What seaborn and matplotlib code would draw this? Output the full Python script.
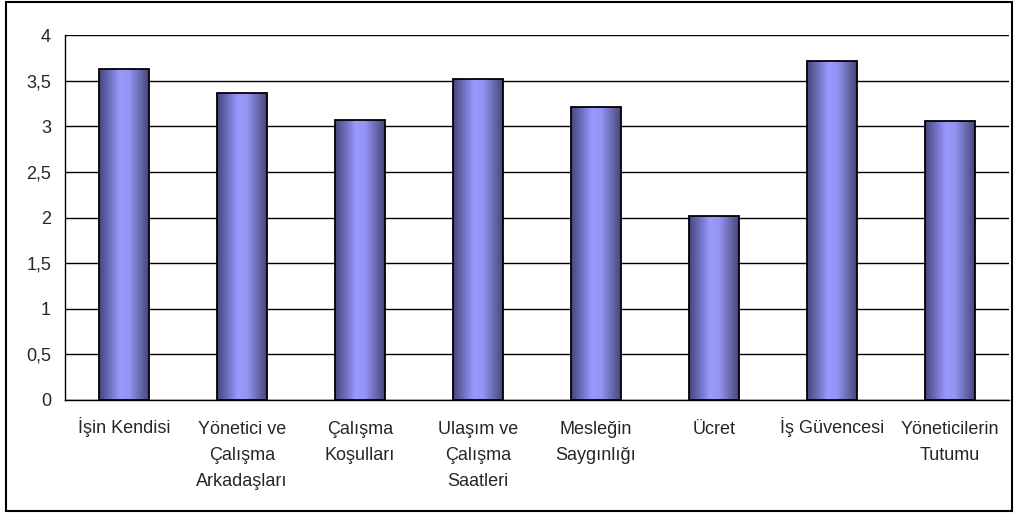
import numpy as np
import pandas as pd
import seaborn as sns
import matplotlib.pyplot as plt
from matplotlib.colors import LinearSegmentedColormap
from matplotlib.patches import Rectangle
from matplotlib.ticker import FuncFormatter, FixedLocator
from matplotlib.transforms import ScaledTranslation

# data
categories = ["İşin Kendisi", "Yönetici ve\nÇalışma\nArkadaşları", "Çalışma\nKoşulları",
              "Ulaşım ve\nÇalışma\nSaatleri", "Mesleğin\nSaygınlığı", "Ücret",
              "İş Güvencesi", "Yöneticilerin\nTutumu"]
values = [3.63, 3.36, 3.07, 3.52, 3.21, 2.02, 3.72, 3.06]
y_ticks = [0, 0.5, 1, 1.5, 2, 2.5, 3, 3.5, 4]

df = pd.DataFrame({"cat": categories, "val": values})

sns.set_style("white")
plt.rcParams["font.family"] = ["Liberation Sans", "DejaVu Sans"]

fig = plt.figure(figsize=(10.17, 5.13), dpi=100)
ax = fig.add_axes([65 / 1017, 1 - 400 / 513, 944 / 1017, 365 / 513])

sns.barplot(data=df, x="cat", y="val", ax=ax, width=0.42, color="#9999ff",
            edgecolor="black", linewidth=1.3, zorder=3)

# cylinder-like horizontal gradient inside each bar
cmap = LinearSegmentedColormap.from_list(
    "cyl", [(0, "#45457a"), (0.22, "#7070c0"), (0.42, "#9999ff"),
            (0.6, "#9494f5"), (0.82, "#6a6ab0"), (1, "#45457a")])
grad = np.linspace(0, 1, 256).reshape(1, -1)
for p in ax.patches:
    x0, y0 = p.get_x(), p.get_y()
    w, h = p.get_width(), p.get_height()
    im = ax.imshow(grad, cmap=cmap, aspect="auto", extent=(x0, x0 + w, y0, y0 + h),
                   zorder=3, interpolation="bilinear")
    im.set_clip_path(p)
    p.set_facecolor("none")
    p.set_zorder(4)

ax.set_xlim(-0.5, len(categories) - 0.5)
ax.set_ylim(0, 4)
ax.set_yticks(y_ticks)
ax.yaxis.set_major_formatter(FuncFormatter(lambda v, _: f"{v:g}".replace(".", ",")))
ax.grid(axis="y", color="black", linewidth=1, zorder=0)
ax.set_axisbelow(True)

ax.xaxis.set_minor_locator(FixedLocator(np.arange(-0.5, len(categories), 1)))
ax.tick_params(axis="x", which="major", length=0, pad=15, labelsize=13)
ax.tick_params(axis="x", which="minor", length=5, width=1, color="black", direction="out")
ax.tick_params(axis="y", length=6, width=1, color="black", direction="out", pad=4, labelsize=13)
for lbl in ax.get_xticklabels():
    lbl.set_linespacing(1.7)
    # the tall dot of "İ" pushes these labels down; lift them to line up with the rest
    if lbl.get_text().startswith("İ"):
        lbl.set_transform(lbl.get_transform() + ScaledTranslation(0, 3 / 72, fig.dpi_scale_trans))

ax.set_xlabel("")
ax.set_ylabel("")
for side in ["top", "right"]:
    ax.spines[side].set_visible(False)
for side in ["left", "bottom"]:
    ax.spines[side].set_color("black")
    ax.spines[side].set_linewidth(1)

# outer chart border
fig.patches.append(Rectangle((6 / 1017, 2 / 513), 1006 / 1017, 509 / 513,
                             transform=fig.transFigure, fill=False,
                             edgecolor="black", linewidth=1.5))

fig.savefig("out.png", dpi=100)
